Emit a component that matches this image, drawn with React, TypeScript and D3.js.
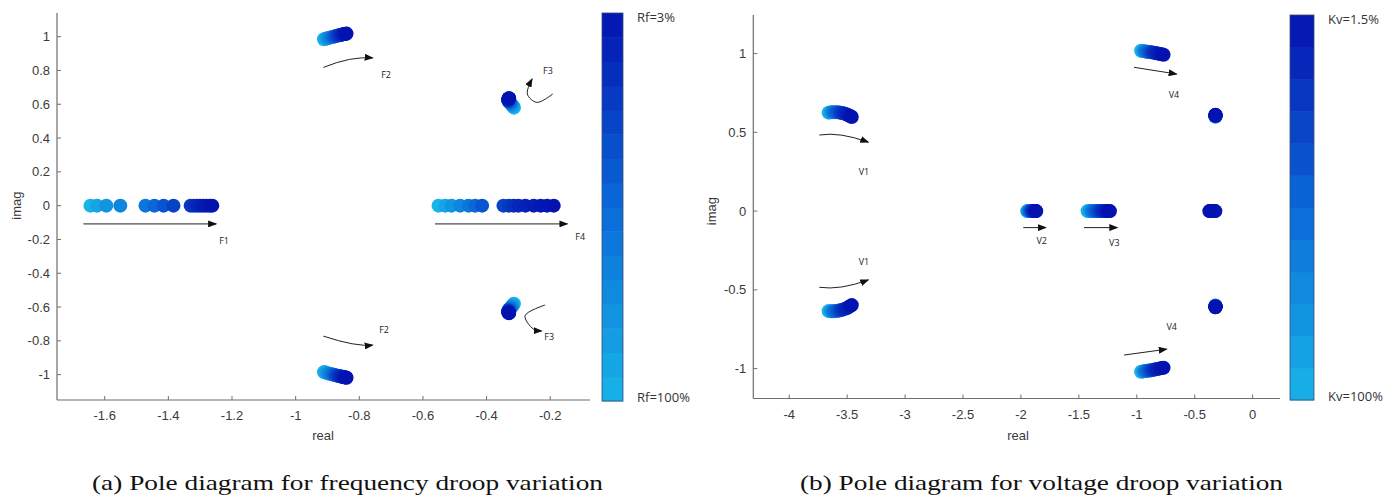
import React from 'react';
import * as d3 from 'd3';

// ---------- data: frequency droop (panel a) ----------
const rfLevels = [100, 90, 80, 70, 60, 50, 40, 30, 25, 20, 15, 12, 9, 7, 5, 3];
const f1Real = [-1.645, -1.624, -1.595, -1.551, -1.472, -1.444, -1.415, -1.384, -1.33, -1.32, -1.31, -1.3, -1.29, -1.28, -1.27, -1.262];
const f1Imag = [0, 0, 0, 0, 0, 0, 0, 0, 0, 0, 0, 0, 0, 0, 0, 0];
const f4Real = [-0.551, -0.53, -0.51, -0.483, -0.457, -0.436, -0.414, -0.347, -0.33, -0.315, -0.3, -0.278, -0.252, -0.23, -0.21, -0.189];
const f4Imag = [0, 0, 0, 0, 0, 0, 0, 0, 0, 0, 0, 0, 0, 0, 0, 0];
const f2Real = [-0.911, -0.906, -0.9, -0.894, -0.887, -0.881, -0.875, -0.869, -0.864, -0.859, -0.855, -0.851, -0.848, -0.845, -0.842, -0.84];
const f2ImagUp = [0.985, 0.988, 0.991, 0.994, 0.997, 1.0, 1.003, 1.006, 1.008, 1.01, 1.012, 1.014, 1.015, 1.016, 1.017, 1.018];
const f2ImagDown = [-0.985, -0.988, -0.991, -0.994, -0.997, -1.0, -1.003, -1.006, -1.008, -1.01, -1.012, -1.014, -1.015, -1.016, -1.017, -1.018];
const f3Real = [-0.314, -0.317, -0.32, -0.323, -0.326, -0.328, -0.33, -0.331, -0.332, -0.332, -0.332, -0.331, -0.331, -0.33, -0.33, -0.329];
const f3ImagUp = [0.58, 0.588, 0.595, 0.602, 0.608, 0.613, 0.617, 0.621, 0.624, 0.627, 0.629, 0.631, 0.633, 0.634, 0.635, 0.636];
const f3ImagDown = [-0.58, -0.588, -0.595, -0.602, -0.608, -0.613, -0.617, -0.621, -0.624, -0.627, -0.629, -0.631, -0.633, -0.634, -0.635, -0.636];

// ---------- data: voltage droop (panel b) ----------
const kvLevels = [100, 80, 60, 50, 40, 30, 20, 15, 10, 6, 3, 1.5];
const v1Real = [-3.66, -3.64, -3.62, -3.6, -3.58, -3.56, -3.54, -3.52, -3.5, -3.485, -3.47, -3.46];
const v1ImagUp = [0.625, 0.627, 0.628, 0.628, 0.627, 0.625, 0.622, 0.618, 0.613, 0.607, 0.602, 0.597];
const v1ImagDown = [-0.635, -0.636, -0.636, -0.635, -0.633, -0.63, -0.626, -0.621, -0.615, -0.608, -0.602, -0.597];
const v2Real = [-1.946, -1.938, -1.93, -1.922, -1.914, -1.906, -1.898, -1.891, -1.884, -1.878, -1.872, -1.868];
const v3Real = [-1.425, -1.405, -1.385, -1.365, -1.345, -1.325, -1.305, -1.285, -1.268, -1.255, -1.242, -1.232];
const zeroImag = [0, 0, 0, 0, 0, 0, 0, 0, 0, 0, 0, 0];
const v4Real = [-0.963, -0.945, -0.927, -0.909, -0.891, -0.873, -0.855, -0.837, -0.819, -0.801, -0.785, -0.769];
const v4ImagUp = [1.018, 1.016, 1.014, 1.012, 1.01, 1.008, 1.006, 1.004, 1.001, 0.998, 0.995, 0.993];
const v4ImagDown = [-1.02, -1.018, -1.016, -1.014, -1.012, -1.01, -1.008, -1.005, -1.002, -0.999, -0.997, -0.995];
const v5Real = [-0.321, -0.321, -0.321, -0.321, -0.321, -0.321, -0.321, -0.321, -0.321, -0.321, -0.321, -0.321];
const v5ImagUp = [0.6, 0.601, 0.602, 0.603, 0.604, 0.605, 0.606, 0.607, 0.608, 0.609, 0.61, 0.611];
const v5ImagDown = [-0.6, -0.601, -0.602, -0.603, -0.604, -0.605, -0.606, -0.607, -0.608, -0.609, -0.61, -0.611];
const v6Real = [-0.345, -0.348, -0.342, -0.352, -0.338, -0.356, -0.334, -0.362, -0.328, -0.368, -0.322, -0.374];

// ---------- ticks ----------
const leftXTicks = [-1.6, -1.4, -1.2, -1, -0.8, -0.6, -0.4, -0.2];
const leftYTicks = [-1, -0.8, -0.6, -0.4, -0.2, 0, 0.2, 0.4, 0.6, 0.8, 1];
const rightXTicks = [-4, -3.5, -3, -2.5, -2, -1.5, -1, -0.5, 0];
const rightYTicks = [-1, -0.5, 0, 0.5, 1];

const colorScale = d3.scaleLinear<string>()
  .domain([0, 0.5, 1])
  .range(['#18b4e8', '#0a6ad8', '#0412b0'])
  .interpolate(d3.interpolateRgb);

type Mode = { re: number[]; im: number[] };
type Arrow = { pts: [number, number][]; kind: 'line' | 'quad' | 'smooth' };
type Label = { text: string; re: number; im: number };

const leftModes: Mode[] = [
  { re: f1Real, im: f1Imag },
  { re: f4Real, im: f4Imag },
  { re: f2Real, im: f2ImagUp },
  { re: f2Real, im: f2ImagDown },
  { re: f3Real, im: f3ImagUp },
  { re: f3Real, im: f3ImagDown },
];
const rightModes: Mode[] = [
  { re: v1Real, im: v1ImagUp },
  { re: v1Real, im: v1ImagDown },
  { re: v2Real, im: zeroImag },
  { re: v3Real, im: zeroImag },
  { re: v4Real, im: v4ImagUp },
  { re: v4Real, im: v4ImagDown },
  { re: v5Real, im: v5ImagUp },
  { re: v5Real, im: v5ImagDown },
  { re: v6Real, im: zeroImag },
];

const leftArrows: Arrow[] = [
  { pts: [[-1.667, -0.108], [-1.25, -0.108]], kind: 'line' },
  { pts: [[-0.562, -0.108], [-0.146, -0.108]], kind: 'line' },
  { pts: [[-0.913, 0.818], [-0.826, 0.885], [-0.758, 0.874]], kind: 'quad' },
  { pts: [[-0.913, -0.772], [-0.81, -0.836], [-0.758, -0.825]], kind: 'quad' },
  { pts: [[-0.192, 0.661], [-0.242, 0.611], [-0.272, 0.661], [-0.257, 0.75]], kind: 'smooth' },
  { pts: [[-0.216, -0.588], [-0.279, -0.651], [-0.253, -0.73], [-0.227, -0.742]], kind: 'smooth' },
];
const leftLabels: Label[] = [
  { text: 'F1', re: -1.225, im: -0.207 },
  { text: 'F4', re: -0.106, im: -0.18 },
  { text: 'F2', re: -0.716, im: 0.775 },
  { text: 'F2', re: -0.722, im: -0.73 },
  { text: 'F3', re: -0.207, im: 0.798 },
  { text: 'F3', re: -0.203, im: -0.776 },
];
const rightArrows: Arrow[] = [
  { pts: [[-3.74, 0.483], [-3.562, 0.504], [-3.317, 0.437]], kind: 'quad' },
  { pts: [[-3.74, -0.484], [-3.562, -0.503], [-3.317, -0.437]], kind: 'quad' },
  { pts: [[-1.98, -0.105], [-1.784, -0.105]], kind: 'line' },
  { pts: [[-1.456, -0.105], [-1.168, -0.105]], kind: 'line' },
  { pts: [[-1.024, 0.913], [-0.656, 0.87]], kind: 'line' },
  { pts: [[-1.11, -0.914], [-0.742, -0.877]], kind: 'line' },
];
const rightLabels: Label[] = [
  { text: 'V1', re: -3.355, im: 0.25 },
  { text: 'V1', re: -3.355, im: -0.321 },
  { text: 'V2', re: -1.821, im: -0.188 },
  { text: 'V3', re: -1.194, im: -0.198 },
  { text: 'V4', re: -0.679, im: 0.739 },
  { text: 'V4', re: -0.699, im: -0.73 },
];

const SANS = "'Liberation Sans', Arial, Helvetica, sans-serif";
const SMALL = "'Open Sans', 'Liberation Sans', sans-serif";
const SERIF = "'Liberation Serif', 'Times New Roman', serif";

type PanelProps = {
  id: string;
  xDom: [number, number]; xRange: [number, number];
  yDom: [number, number]; yRange: [number, number];
  xTicks: number[]; yTicks: number[];
  modes: Mode[]; levels: number[];
  arrows: Arrow[]; labels: Label[];
  cbX: number; cbW: number; cbTop: number; cbBottom: number; cbBands: number;
  cbTopLabel: string; cbBottomLabel: string;
  imagX: number; realX: number;
  caption: string; capX: number; capW: number;
};

function Panel(p: PanelProps) {
  const x = d3.scaleLinear().domain(p.xDom).range(p.xRange);
  const y = d3.scaleLinear().domain(p.yDom).range(p.yRange);
  const lvMax = d3.max(p.levels) as number;
  const lvMin = d3.min(p.levels) as number;
  const tOf = (lv: number) => (lvMax - lv) / (lvMax - lvMin);
  const x0 = p.xRange[0];
  const y0 = p.yRange[0];
  const arrowPath = (a: Arrow) => {
    const pts = a.pts.map(([r, i]) => [x(r), y(i)] as [number, number]);
    if (a.kind === 'line') return `M${pts[0][0]},${pts[0][1]}L${pts[1][0]},${pts[1][1]}`;
    if (a.kind === 'quad') return `M${pts[0][0]},${pts[0][1]}Q${pts[1][0]},${pts[1][1]} ${pts[2][0]},${pts[2][1]}`;
    return d3.line().curve(d3.curveCatmullRom.alpha(0.5))(pts) || '';
  };
  const bands = d3.range(p.cbBands);
  const bandH = (p.cbBottom - p.cbTop) / p.cbBands;
  return (
    <g>
      {/* axes */}
      <line x1={x0} x2={x0} y1={p.yRange[1]} y2={y0} stroke="#6e6e6e" strokeWidth={1.2} />
      <line x1={x0} x2={p.xRange[1]} y1={y0} y2={y0} stroke="#6e6e6e" strokeWidth={1.2} />
      {p.xTicks.map((t) => (
        <g key={'xt' + t}>
          <line x1={x(t)} x2={x(t)} y1={y0} y2={y0 - 4} stroke="#6e6e6e" />
          <text x={x(t)} y={y0 + 20} textAnchor="middle" style={{ fontFamily: SANS }} fontSize={13} fill="#3a3a3a">{String(t)}</text>
        </g>
      ))}
      {p.yTicks.map((t) => (
        <g key={'yt' + t}>
          <line x1={x0} x2={x0 + 4} y1={y(t)} y2={y(t)} stroke="#6e6e6e" />
          <text x={x0 - 7} y={y(t) + 4.5} textAnchor="end" style={{ fontFamily: SANS }} fontSize={13} fill="#3a3a3a">{String(t)}</text>
        </g>
      ))}
      <text transform={`translate(${p.imagX},${y(0)}) rotate(-90)`} textAnchor="middle" style={{ fontFamily: SANS }} fontSize={13} fill="#3a3a3a">imag</text>
      <text x={p.realX} y={440} textAnchor="middle" style={{ fontFamily: SANS }} fontSize={13} fill="#3a3a3a">real</text>

      {/* poles */}
      {p.modes.map((m, mi) => (
        <g key={'m' + mi}>
          {m.re.map((r, i) => (
            <circle key={i} cx={x(r)} cy={y(m.im[i])} r={7} fill={colorScale(tOf(p.levels[i]))} />
          ))}
        </g>
      ))}

      {/* arrows */}
      {p.arrows.map((a, i) => (
        <path key={'a' + i} d={arrowPath(a)} fill="none" stroke="#222" strokeWidth={1} markerEnd={`url(#head-${p.id})`} />
      ))}
      {p.labels.map((l, i) => (
        <text key={'l' + i} x={x(l.re)} y={y(l.im) + 3.5} textAnchor="middle" style={{ fontFamily: SMALL }} fontSize={9} fill="#222">{l.text}</text>
      ))}

      {/* colorbar */}
      {bands.map((b) => (
        <rect key={'cb' + b} x={p.cbX} y={p.cbBottom - (b + 1) * bandH} width={p.cbW} height={bandH + 0.5}
          fill={colorScale((b + 0.5) / p.cbBands)} />
      ))}
      <rect x={p.cbX} y={p.cbTop} width={p.cbW} height={p.cbBottom - p.cbTop} fill="none" stroke="#3a4a70" strokeWidth={0.8} />
      <text x={p.cbX + p.cbW + 14} y={p.cbTop + 9} style={{ fontFamily: SMALL }} fontSize={13} fill="#333">{p.cbTopLabel}</text>
      <text x={p.cbX + p.cbW + 14} y={p.cbBottom + 1} style={{ fontFamily: SMALL }} fontSize={13} fill="#333">{p.cbBottomLabel}</text>

      {/* caption */}
      <text x={p.capX} y={490} style={{ fontFamily: SERIF }} fontSize={22} fill="#111"
        textLength={p.capW} lengthAdjust="spacingAndGlyphs">{p.caption}</text>
    </g>
  );
}

export default function App() {
  return (
    <svg width={1400} height={501} style={{ position: 'absolute', left: 0, top: 0, background: '#fff' }}>
      <defs>
        {['a', 'b'].map((id) => (
          <marker key={id} id={`head-${id}`} markerUnits="userSpaceOnUse" markerWidth={9} markerHeight={7}
            refX={8} refY={3.5} orient="auto">
            <path d="M0,0 L9,3.5 L0,7 z" fill="#111" />
          </marker>
        ))}
      </defs>
      <rect width={1400} height={501} fill="#fff" />
      <Panel
        id="a"
        xDom={[-1.75, -0.075]} xRange={[57, 590]}
        yDom={[-1.15, 1.14]} yRange={[400, 13]}
        xTicks={leftXTicks} yTicks={leftYTicks}
        modes={leftModes} levels={rfLevels}
        arrows={leftArrows} labels={leftLabels}
        cbX={602} cbW={21} cbTop={13} cbBottom={401} cbBands={16}
        cbTopLabel="Rf=3%" cbBottomLabel="Rf=100%"
        imagX={21} realX={323}
        caption="(a) Pole diagram for frequency droop variation" capX={92} capW={511}
      />
      <Panel
        id="b"
        xDom={[-4.31, 0.236]} xRange={[753.3, 1280]}
        yDom={[-1.19, 1.245]} yRange={[398.5, 15]}
        xTicks={rightXTicks} yTicks={rightYTicks}
        modes={rightModes} levels={kvLevels}
        arrows={rightArrows} labels={rightLabels}
        cbX={1290} cbW={24} cbTop={15} cbBottom={400} cbBands={12}
        cbTopLabel="Kv=1.5%" cbBottomLabel="Kv=100%"
        imagX={716} realX={1018}
        caption="(b) Pole diagram for voltage droop variation" capX={800} capW={483}
      />
    </svg>
  );
}
